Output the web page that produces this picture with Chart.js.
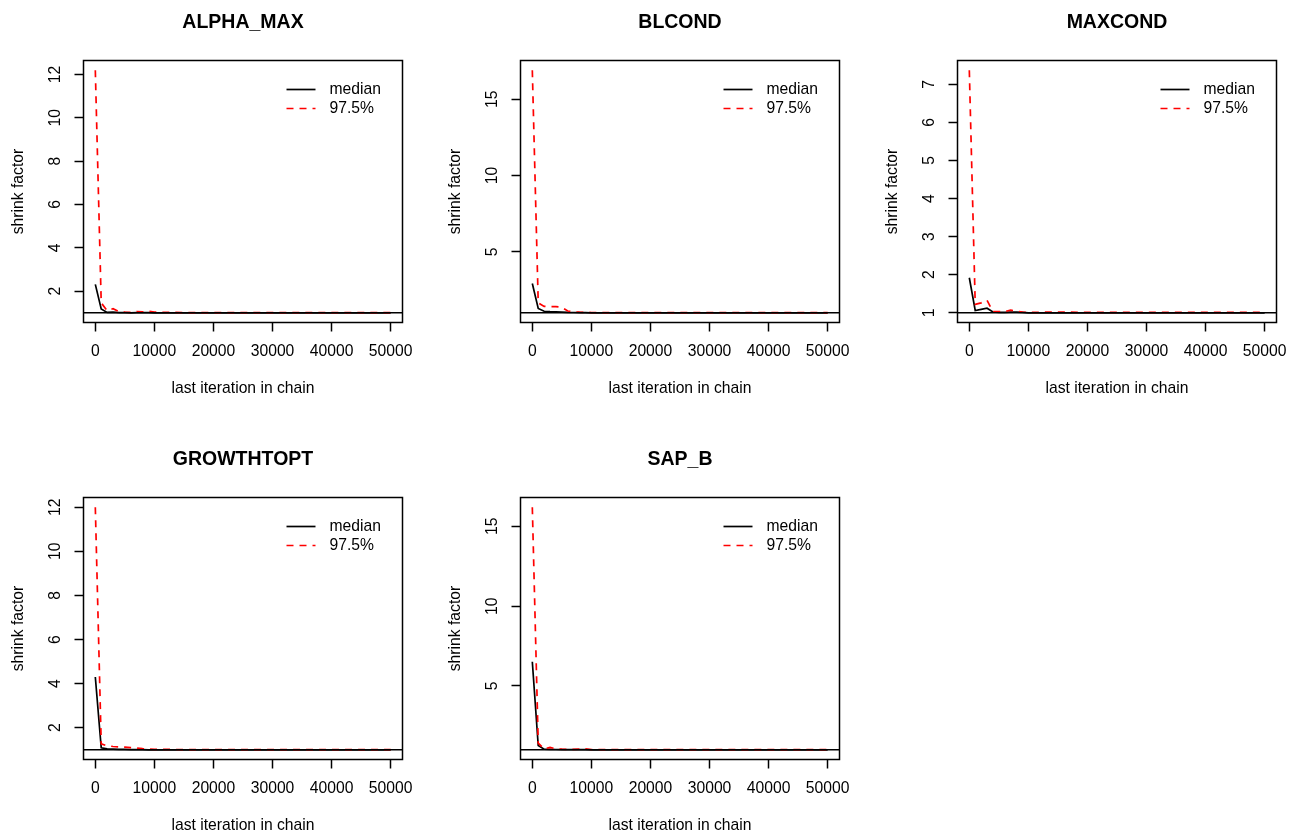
<!DOCTYPE html>
<html>
<head>
<meta charset="utf-8">
<title>Gelman-Rubin shrink factor</title>
<script src="https://cdn.jsdelivr.net/npm/chart.js@4.4.1/dist/chart.umd.min.js"></script>
<style>
  html, body { margin: 0; padding: 0; background: #fff; overflow: hidden; }
  #plots { position: relative; width: 1296px; height: 836px; overflow: hidden; }
  #plots canvas { position: absolute; }
</style>
</head>
<body>
<div id="plots"></div>
<script>
// last iteration of each bin (shared by every panel)
const iterations = [0, 1000, 2000, 3000, 4000, 5000, 6000, 7000, 8000, 9000, 10000,
                    15000, 20000, 25000, 30000, 35000, 40000, 45000, 50000];
const xTickValues = [0, 10000, 20000, 30000, 40000, 50000];

const paramNames = ['ALPHA_MAX', 'BLCOND', 'MAXCOND', 'GROWTHTOPT', 'SAP_B'];

const alphaMaxMedian = [2.31, 1.18, 1.02, 1.03, 1.01, 1.01, 1.00, 1.01, 1.01, 1.01, 1.00,
                        1.00, 1.00, 1.00, 1.00, 1.00, 1.00, 1.00, 1.00];
const alphaMaxUpper  = [12.2, 1.46, 1.10, 1.19, 1.05, 1.03, 1.02, 1.06, 1.04, 1.08, 1.03,
                        1.01, 1.01, 1.01, 1.01, 1.01, 1.01, 1.01, 1.01];

const blcondMedian = [2.92, 1.28, 1.10, 1.08, 1.07, 1.05, 1.03, 1.02, 1.01, 1.01, 1.00,
                      1.00, 1.00, 1.00, 1.00, 1.00, 1.00, 1.00, 1.00];
const blcondUpper  = [16.9, 1.65, 1.42, 1.40, 1.40, 1.36, 1.12, 1.06, 1.04, 1.03, 1.02,
                      1.01, 1.01, 1.01, 1.01, 1.02, 1.01, 1.01, 1.01];

const maxcondMedian = [1.92, 1.06, 1.09, 1.12, 1.02, 1.01, 1.01, 1.02, 1.02, 1.01, 1.00,
                       1.00, 1.00, 1.00, 1.00, 1.00, 1.00, 1.00, 1.00];
const maxcondUpper  = [7.37, 1.22, 1.26, 1.33, 1.03, 1.03, 1.03, 1.07, 1.04, 1.02, 1.01,
                       1.02, 1.01, 1.01, 1.01, 1.01, 1.01, 1.01, 1.01];

const growthToptMedian = [4.30, 1.09, 1.04, 1.03, 1.02, 1.02, 1.01, 1.01, 1.01, 1.00, 1.00,
                          1.00, 1.00, 1.00, 1.00, 1.00, 1.00, 1.00, 1.00];
const growthToptUpper  = [12.0, 1.27, 1.18, 1.15, 1.13, 1.12, 1.10, 1.08, 1.05, 1.03, 1.02,
                          1.01, 1.01, 1.01, 1.01, 1.01, 1.01, 1.01, 1.01];

const sapBMedian = [6.52, 1.27, 1.04, 1.03, 1.02, 1.01, 1.01, 1.01, 1.01, 1.01, 1.00,
                    1.00, 1.00, 1.00, 1.00, 1.00, 1.00, 1.00, 1.00];
const sapBUpper  = [16.2, 1.42, 1.05, 1.15, 1.06, 1.04, 1.03, 1.03, 1.04, 1.06, 1.02,
                    1.01, 1.01, 1.01, 1.01, 1.01, 1.01, 1.01, 1.01];

const yTicksAlphaMax = [2, 4, 6, 8, 10, 12];
const yTicksBlcond = [5, 10, 15];
const yTicksMaxcond = [1, 2, 3, 4, 5, 6, 7];
const yTicksGrowthTopt = [2, 4, 6, 8, 10, 12];
const yTicksSapB = [5, 10, 15];

const targetShrink = 1;

const panels = [
    { name: paramNames[0], median: alphaMaxMedian, upper: alphaMaxUpper, ticks: yTicksAlphaMax },
    { name: paramNames[1], median: blcondMedian, upper: blcondUpper, ticks: yTicksBlcond },
    { name: paramNames[2], median: maxcondMedian, upper: maxcondUpper, ticks: yTicksMaxcond },
    { name: paramNames[3], median: growthToptMedian, upper: growthToptUpper, ticks: yTicksGrowthTopt },
    { name: paramNames[4], median: sapBMedian, upper: sapBUpper, ticks: yTicksSapB }
];

const FONT = '"Liberation Sans", Arial, Helvetica, sans-serif';
const TEXT_SIZE = 15.7;
Chart.defaults.font.family = FONT;
Chart.defaults.color = '#000';

const PANEL_STEP = 437;
const CANVAS_W = 437;
const CANVAS_H = 418;

// box around the plot, the reference line at 1 and the legend in the corner
const gelmanDecor = {
    id: 'gelmanDecor',
    afterDatasetsDraw(chart) {
        const { ctx, chartArea } = chart;
        const yRef = chart.scales.y.getPixelForValue(targetShrink);
        ctx.save();
        ctx.strokeStyle = '#000';
        ctx.lineWidth = 1.6;
        ctx.beginPath();
        ctx.moveTo(chartArea.left, yRef);
        ctx.lineTo(chartArea.right, yRef);
        ctx.stroke();
        ctx.lineWidth = 1.5;
        ctx.strokeRect(chartArea.left, chartArea.top, chartArea.right - chartArea.left, chartArea.bottom - chartArea.top);
        ctx.restore();
    },
    afterDraw(chart) {
        const { ctx, chartArea } = chart;
        ctx.save();
        ctx.font = TEXT_SIZE + 'px ' + FONT;
        ctx.textBaseline = 'middle';
        ctx.textAlign = 'left';
        chart.data.datasets.forEach((ds, i) => {
            const y = chartArea.top + 29 + i * 19;
            ctx.beginPath();
            ctx.setLineDash(ds.borderDash || []);
            ctx.strokeStyle = ds.borderColor;
            ctx.lineWidth = ds.borderWidth;
            ctx.moveTo(chartArea.right - 116, y);
            ctx.lineTo(chartArea.right - 87, y);
            ctx.stroke();
            ctx.setLineDash([]);
            ctx.fillStyle = '#000';
            ctx.fillText(ds.label, chartArea.right - 73, y);
        });
        ctx.restore();
    }
};

function toPoints(values) {
    return iterations.map((it, i) => ({ x: it, y: values[i] }));
}

function buildChart(canvas, panel) {
    const yMax = Math.max(...panel.median, ...panel.upper);
    const yPad = 0.04 * (yMax - targetShrink);
    const digits = Math.max(...panel.ticks.map(t => String(t).length));
    const yTickPadding = 27.5 - 9 - digits * 4.35;

    return new Chart(canvas, {
        type: 'line',
        data: {
            datasets: [
                {
                    label: 'median',
                    data: toPoints(panel.median),
                    borderColor: '#000000',
                    borderWidth: 1.7,
                    pointRadius: 0,
                    fill: false,
                    order: 1
                },
                {
                    label: '97.5%',
                    data: toPoints(panel.upper),
                    borderColor: '#ff0000',
                    borderDash: [7, 6],
                    borderWidth: 1.7,
                    pointRadius: 0,
                    fill: false,
                    order: 0
                }
            ]
        },
        options: {
            responsive: false,
            animation: false,
            devicePixelRatio: 1,
            layout: { padding: { left: 0, right: 34.5, top: 0, bottom: 0 } },
            plugins: {
                legend: { display: false },
                tooltip: { enabled: false },
                title: {
                    display: true,
                    text: panel.name,
                    fullSize: false,
                    color: '#000',
                    font: { size: 19.5, weight: 'bold', lineHeight: 1 },
                    padding: { top: 12.5, bottom: 28.5 }
                }
            },
            scales: {
                x: {
                    type: 'linear',
                    min: -2000,
                    max: 52000,
                    afterBuildTicks: s => { s.ticks = xTickValues.map(v => ({ value: v })); },
                    afterFit: s => { s.height = 95.5; },
                    border: { display: false },
                    grid: { drawOnChartArea: false, drawTicks: true, tickLength: 9, tickColor: '#000', tickWidth: 1.5 },
                    ticks: {
                        color: '#000',
                        font: { size: TEXT_SIZE },
                        padding: 10.5,
                        maxRotation: 0,
                        autoSkip: false,
                        callback: v => String(v)
                    },
                    title: {
                        display: true,
                        text: 'last iteration in chain',
                        color: '#000',
                        font: { size: TEXT_SIZE },
                        padding: { top: 0, bottom: 19.5 }
                    }
                },
                y: {
                    type: 'linear',
                    min: targetShrink - yPad,
                    max: yMax + yPad,
                    afterBuildTicks: s => { s.ticks = panel.ticks.map(v => ({ value: v })); },
                    afterFit: s => { s.width = 83.5; },
                    border: { display: false },
                    grid: { drawOnChartArea: false, drawTicks: true, tickLength: 9, tickColor: '#000', tickWidth: 1.5 },
                    ticks: {
                        color: '#000',
                        font: { size: TEXT_SIZE },
                        minRotation: 90,
                        maxRotation: 90,
                        crossAlign: 'center',
                        padding: yTickPadding,
                        autoSkip: false,
                        callback: v => String(v)
                    },
                    title: {
                        display: true,
                        text: 'shrink factor',
                        color: '#000',
                        font: { size: TEXT_SIZE },
                        padding: { top: 9, bottom: 0 }
                    }
                }
            }
        },
        plugins: [gelmanDecor]
    });
}

const plots = document.getElementById('plots');
panels.forEach((panel, i) => {
    const canvas = document.createElement('canvas');
    canvas.width = CANVAS_W;
    canvas.height = CANVAS_H;
    canvas.style.width = CANVAS_W + 'px';
    canvas.style.height = CANVAS_H + 'px';
    canvas.style.left = (i % 3) * PANEL_STEP + 'px';
    canvas.style.top = Math.floor(i / 3) * PANEL_STEP + 'px';
    plots.appendChild(canvas);
    buildChart(canvas, panel);
});
</script>
</body>
</html>
